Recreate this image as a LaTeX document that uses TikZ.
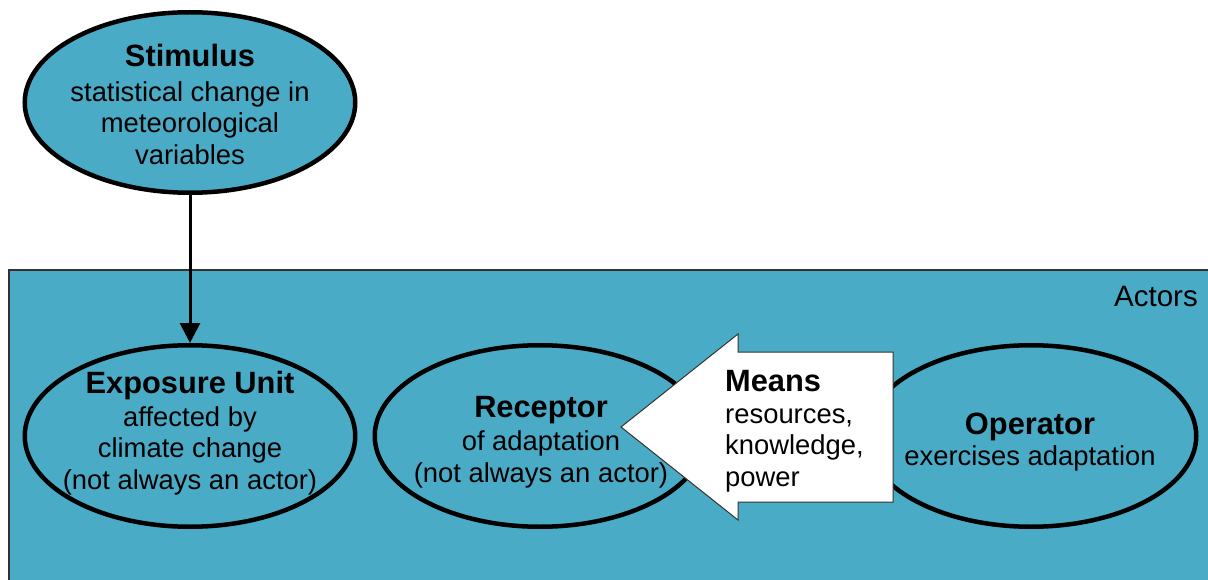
\documentclass[tikz,border=0pt]{standalone}
\usepackage{fontspec}
\setmainfont{Liberation Sans}
\usetikzlibrary{arrows.meta,shapes.geometric}
\definecolor{actorblue}{RGB}{74,171,198}
\definecolor{edgegray}{RGB}{50,50,50}
\newcommand\mytitle[1]{{\fontsize{30.8}{31.5}\selectfont\bfseries #1}}
\begin{document}
\begin{tikzpicture}[x=1pt,y=-1pt,
  ell/.style={ellipse, draw=black, line width=4.5pt, fill=actorblue,
    minimum width=330.5pt, minimum height=181.5pt, inner sep=0pt},
  txt/.style={align=center, inner sep=0pt, font=\fontsize{27.4}{31.5}\selectfont},
  actorsbox/.style={draw=edgegray, line width=1.2pt, fill=actorblue},
  meansarrow/.style={draw=edgegray, line width=1pt, fill=white},
  flow/.style={-{Triangle[width=20pt,length=20pt]}, line width=3pt, draw=black}
]
\useasboundingbox (0,0) rectangle (1208,580);
% Actors region
\draw[actorsbox] (9,270) rectangle (1220,600);
\node[anchor=base east, inner sep=0pt, font=\fontsize{29.5}{32}\selectfont] (actors) at (1198,306) {Actors};
% ellipses
\node[ell, minimum height=180.5pt] (stim) at (190,102.5) {};
\node[ell] (expo) at (190,436) {};
\node[ell] (rec) at (540,436) {};
\node[ell] (oper) at (1031,436) {};
% texts
\node[txt] (stimtxt) at (190,104.5) {\mytitle{Stimulus}\\[3pt]statistical change in\\meteorological\\variables};
\node[txt] (expotxt) at (190,433) {\mytitle{Exposure Unit}\\[1.5pt]affected by\\climate change\\(not always an actor)};
\node[txt] (rectxt) at (541,442) {\mytitle{Receptor}\\[1.5pt]of adaptation\\(not always an actor)};
\node[txt] (opertxt) at (1030,442) {\mytitle{Operator}\\exercises adaptation};
% stimulus to exposure
\draw[flow] (stim.south) -- (expo.north);
% means arrow
\draw[meansarrow] (621,427) -- (738,334) -- (738,352) -- (893,352) -- (893,502)
  -- (738,502) -- (738,520) -- cycle;
\node[txt, align=left, anchor=west] (means) at (725,431) {\mytitle{Means}\\resources,\\knowledge,\\power};
\end{tikzpicture}
\end{document}
